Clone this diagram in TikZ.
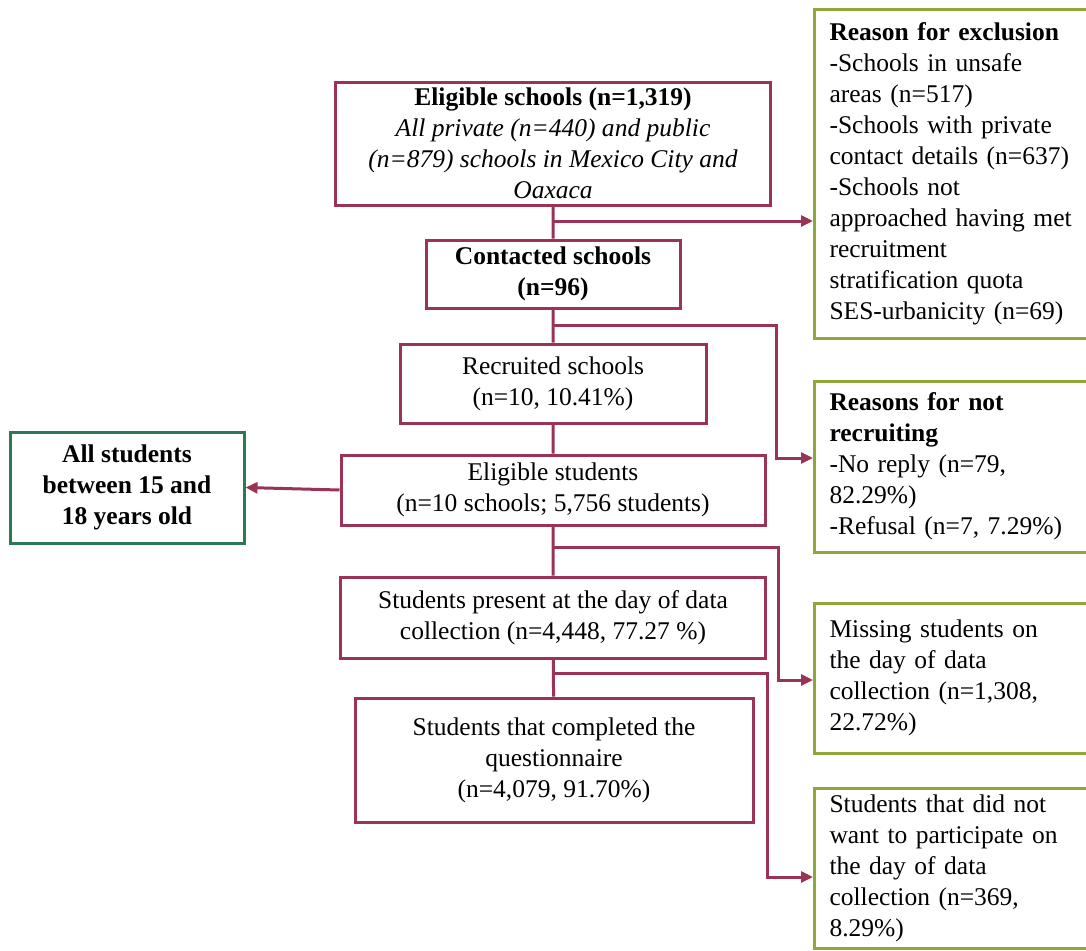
\documentclass[tikz,border=0pt]{standalone}
\usepackage{fontspec}
\setmainfont{Liberation Serif}
\usepackage{tikz}
\usetikzlibrary{arrows.meta}
\definecolor{flowred}{HTML}{9B3354}
\definecolor{exclgreen}{HTML}{8FA63A}
\definecolor{agegreen}{HTML}{2E7858}

\begin{document}
\begin{tikzpicture}[
  x=1pt, y=-1pt,
  font=\fontsize{25.5}{31}\selectfont,
  >={Triangle[length=12pt, width=11pt]},
  stage/.style={draw=flowred, line width=3pt, align=center, inner sep=2pt},
  reason/.style={draw=exclgreen, line width=3pt, align=left, anchor=west,
                 text width=272pt, inner xsep=15pt, inner ysep=2pt},
  agebox/.style={draw=agegreen, line width=3pt, align=center, inner sep=2pt,
                 minimum width=234pt, minimum height=111pt},
  arr/.style={->, flowred, line width=3pt},
]
\useasboundingbox (0,0) rectangle (1086,950);
\clip (0,0) rectangle (1086,950);
% main flow
\node[stage, minimum width=435pt, minimum height=123pt] (elig) at (553,143.5)
  {\textbf{Eligible schools (n=1,319)}\\ \textit{All private (n=440) and public}\\
   \textit{(n=879) schools in Mexico City and}\\ \textit{Oaxaca}};
\node[stage, minimum width=254pt, minimum height=68pt] (contact) at (553,274)
  {\textbf{Contacted schools}\\ \textbf{(n=96)}};
\node[stage, minimum width=306pt, minimum height=79pt] (recruit) at (553,383.5)
  {Recruited schools\\ (n=10, 10.41\%)};
\node[stage, minimum width=424pt, minimum height=70pt] (eligst) at (553,490)
  {Eligible students\\ (n=10 schools; 5,756 students)};
\node[stage, minimum width=425pt, minimum height=81pt] (present) at (553,617.5)
  {Students present at the day of data\\ collection (n=4,448, 77.27 \%)};
\node[stage, minimum width=398pt, minimum height=124pt] (complete) at (554,760)
  {Students that completed the\\ questionnaire\\ (n=4,079, 91.70\%)};
\node[agebox] (allst) at (127,487.5)
  {\textbf{All students}\\ \textbf{between 15 and}\\ \textbf{18 years old}};
% reasons
\node[reason, minimum height=328pt] (excl) at (813,174)
  {\textbf{Reason for exclusion}\\ -Schools in unsafe\\ areas (n=517)\\
   -Schools with private\\ contact details (n=637)\\ -Schools not\\
   approached having met\\ recruitment\\ stratification quota\\
   SES-urbanicity (n=69)};
\node[reason, minimum height=171pt] (norec) at (813,466.5)
  {\textbf{Reasons for not}\\ \textbf{recruiting}\\ -No reply (n=79,\\ 82.29\%)\\
   -Refusal (n=7, 7.29\%)};
\node[reason, minimum height=150pt] (missing) at (813,678)
  {Missing students on\\ the day of data\\ collection (n=1,308,\\ 22.72\%)};
\node[reason, minimum height=160pt] (refused) at (813,868)
  {Students that did not\\ want to participate on\\ the day of data\\
   collection (n=369,\\ 8.29\%)};
% connectors
\coordinate (b1) at (553,221);
\coordinate (b2) at (553,325);
\coordinate (b3) at (553,547);
\coordinate (b4) at (553,673);
\coordinate (k2) at (776,458);
\coordinate (k3) at (778,680);
\coordinate (k4) at (767,877);
\draw[flowred, line width=3pt] (elig) -- (contact) (contact) -- (recruit)
  (recruit) -- (eligst) (eligst) -- (present) (present) -- (complete);
\draw[arr] (b1) -- (b1 -| excl.west);
\draw[arr] (b2) -| (k2) -- (k2 -| norec.west);
\draw[arr] (b3) -| (k3) -- (k3 -| missing.west);
\draw[arr] (b4) -| (k4) -- (k4 -| refused.west);
\draw[arr] (eligst.west) -- (allst.east);
\end{tikzpicture}
\end{document}
